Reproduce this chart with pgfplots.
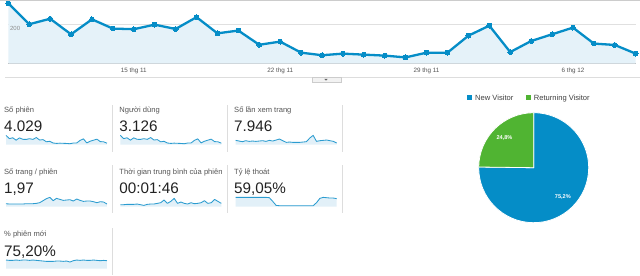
\documentclass[border=0pt]{standalone}
\usepackage{pgfplots}
\usepackage{pgfplotstable}
\pgfplotsset{compat=1.18}
\usepackage{fontspec}
\setmainfont{Liberation Sans}
\definecolor{gablue}{HTML}{058DC7}
\definecolor{gafill}{HTML}{E5F2F9}
\definecolor{gagreen}{HTML}{50B432}
\definecolor{sparkline}{HTML}{2B9CD0}
\definecolor{sparkfill}{HTML}{E2F0F8}
\definecolor{divider}{HTML}{DDDDDD}
\definecolor{labelgray}{HTML}{555555}
\definecolor{valuegray}{HTML}{222222}

% daily sessions (v) and users (u), 9 Nov - 9 Dec
\pgfplotstableread{
x v u
0 307 238
1 200 155
2 228 177
3 149 116
4 225 175
5 178 138
6 175 136
7 198 154
8 176 137
9 236 183
10 154 120
11 168 130
12 96 74
13 112 87
14 56 43
15 43 33
16 51 40
17 46 36
18 41 32
19 32 25
20 56 43
21 56 43
22 142 110
23 193 150
24 59 46
25 115 89
26 149 116
27 183 142
28 102 79
29 95 74
30 51 40
}\sessions

% sparkline shapes (relative values)
\pgfplotstableread{
x pv pps dur bounce newp
0 13 9 6 28 26
1 11 8 6 28 25
2 9 8 7 28 25
3 12 8 7 28 26
4 10 8 7 28 25
5 11 8 8 28 26
6 10 9 6 28 26
7 11 9 4 28 25
8 12 9 7 28 26
9 10 10 8 28 25
10 13 12 8 27 24
11 11 18 10 16 23
12 14 24 12 4 22
13 17 28 20 3 22
14 12 18 10 3 22
15 7 25 16 3 23
16 8 22 25 3 23
17 7 19 10 3 22
18 7 20 14 3 23
19 7 21 10 3 20
20 8 17 8 3 24
21 9 23 12 3 26
22 20 19 9 3 25
23 28 16 10 3 26
24 10 17 12 12 25
25 12 17 18 25 25
26 13 15 10 28 26
27 14 12 12 27 25
28 12 15 22 26 24
29 10 14 16 26 25
30 5 8 10 24 24
}\spark

\pgfplotsset{sparkax/.style={scale only axis, width=101bp, height=10bp,
  xmin=0, xmax=30, ymin=0, ymax=30, hide axis, clip=false, anchor=south west}}
\newcommand{\sparkplot}[2]{%
  \addplot[fill=sparkfill, draw=none] table[x=x, y=#2] {#1} \closedcycle;
  \addplot[draw=sparkline, line width=0.85bp, line join=round] table[x=x, y=#2] {#1};}

\newcommand{\lab}{\fontsize{7.6}{8}\selectfont\color{labelgray}}
\newcommand{\val}{\fontsize{15.3}{16}\selectfont\color{valuegray}}

\begin{document}
\begin{tikzpicture}
\useasboundingbox (0,0) rectangle (640bp,-276bp);
\fill[white] (0,0) rectangle (640bp,-276bp);

% ---------- main line chart ----------
\begin{axis}[at={(8.3bp,-63.7bp)}, anchor=south west, scale only axis,
  width=627.4bp, height=63.7bp, xmin=0, xmax=30, ymin=0, ymax=323,
  enlargelimits=false, clip=false,
  axis x line=bottom, axis y line=none,
  axis line style={-}, x axis line style={draw=black!35, line width=0.6bp},
  xtick={6,13,20,27}, xticklabels={15 thg 11,22 thg 11,29 thg 11,6 thg 12},
  major tick length=0pt,
  xticklabel style={font=\fontsize{6.3}{7}\selectfont, text=labelgray, anchor=base, yshift=-9bp},
  ytick=\empty]
\draw[black!12, line width=0.6bp] (axis cs:0,200) -- (axis cs:30,200);
\addplot[fill=gafill, draw=none] table[x=x, y=v] {\sessions} \closedcycle;
\addplot[draw=gablue, line width=2.3bp, line join=round, mark=*, mark size=2.4bp,
  mark options={fill=gablue, draw=gablue, line width=0bp}] table[x=x, y=v] {\sessions};
\node[anchor=west, font=\fontsize{6}{7}\selectfont, text=black!45, inner sep=0pt]
  at (axis cs:0.08,178) {200};
\end{axis}

% ---------- sparklines ----------
\begin{axis}[sparkax, at={(6bp,-144.7bp)}, ymax=330]
\sparkplot{\sessions}{v}
\end{axis}
\begin{axis}[sparkax, at={(120.3bp,-144.7bp)}, ymax=256]
\sparkplot{\sessions}{u}
\end{axis}
\begin{axis}[sparkax, at={(235.7bp,-144.7bp)}]
\sparkplot{\spark}{pv}
\end{axis}
\begin{axis}[sparkax, at={(6bp,-206.7bp)}]
\sparkplot{\spark}{pps}
\end{axis}
\begin{axis}[sparkax, at={(120.3bp,-206.7bp)}]
\sparkplot{\spark}{dur}
\end{axis}
\begin{axis}[sparkax, at={(235.7bp,-206.7bp)}]
\sparkplot{\spark}{bounce}
\end{axis}
\begin{axis}[sparkax, at={(6bp,-268.7bp)}]
\sparkplot{\spark}{newp}
\end{axis}

% ---------- pie ----------
\pgfmathsetmacro{\retang}{360*24.8/100}
\begin{axis}[at={(533.7bp,-167.7bp)}, anchor=center, scale only axis,
  width=110bp, height=110bp, xmin=-1, xmax=1, ymin=-1, ymax=1, hide axis, clip=false]
\filldraw[fill=gablue, draw=white, line width=0.8bp, line join=round]
  (axis cs:0,0) -- ++({90+\retang}:55bp) arc[start angle={90+\retang}, end angle=450, radius=55bp] -- cycle;
\filldraw[fill=gagreen, draw=white, line width=0.8bp, line join=round]
  (axis cs:0,0) -- ++(90:55bp) arc[start angle=90, end angle={90+\retang}, radius=55bp] -- cycle;
\path (axis cs:0,0) ++({90+\retang/2}:41.5bp) node[text=white, font=\fontsize{5.6}{6}\selectfont\bfseries] {24,8\%};
\path (axis cs:0,0) ++({(90+\retang+450)/2}:41.5bp) node[text=white, font=\fontsize{5.6}{6}\selectfont\bfseries] {75,2\%};
\end{axis}

% ---------- decorations and text (pixel coordinates) ----------
\begin{scope}[x=1bp, y=-1bp]
\draw[black!20, line width=1bp] (0,0.5) -- (640,0.5);
\draw[divider, line width=0.8bp] (5,77.3) -- (640,77.3);
\filldraw[fill=black!5, draw=black!20, line width=0.5bp] (312,77.3) rectangle (341,82);
\fill[black!60] (324.3,78.8) -- (327.7,78.8) -- (326,80.6) -- cycle;

% dividers
\foreach \xx in {112.7,227.7,342.3} {
  \draw[divider, line width=0.8bp] (\xx,105) -- (\xx,152);
  \draw[divider, line width=0.8bp] (\xx,165) -- (\xx,213);
}
\draw[divider, line width=0.8bp] (112.7,228) -- (112.7,275);

% labels and values
\node[anchor=base west, inner sep=0pt] at (4,112.3) {\lab Số phiên};
\node[anchor=base west, inner sep=0pt] at (4,131.7) {\val 4.029};
\node[anchor=base west, inner sep=0pt] at (119.3,112.3) {\lab Người dùng};
\node[anchor=base west, inner sep=0pt] at (119.3,131.7) {\val 3.126};
\node[anchor=base west, inner sep=0pt] at (234,112.3) {\lab Số lần xem trang};
\node[anchor=base west, inner sep=0pt] at (234,131.7) {\val 7.946};

\node[anchor=base west, inner sep=0pt] at (4,174.3) {\lab Số trang / phiên};
\node[anchor=base west, inner sep=0pt] at (4,193.3) {\val 1,97};
\node[anchor=base west, inner sep=0pt] at (119.3,174.3) {\lab Thời gian trung bình của phiên};
\node[anchor=base west, inner sep=0pt] at (119.3,193.3) {\val 00:01:46};
\node[anchor=base west, inner sep=0pt] at (234,174.3) {\lab Tỷ lệ thoát};
\node[anchor=base west, inner sep=0pt] at (234,193.3) {\val 59,05\%};

\node[anchor=base west, inner sep=0pt] at (4,236) {\lab \% phiên mới};
\node[anchor=base west, inner sep=0pt] at (4,256) {\val 75,20\%};

% pie legend
\fill[gablue] (466.7,95) rectangle (471.7,100);
\node[anchor=base west, inner sep=0pt] at (475,100) {\fontsize{7.6}{8}\selectfont\color{black!75} New Visitor};
\fill[gagreen] (526,95) rectangle (531,100);
\node[anchor=base west, inner sep=0pt] at (533.7,100) {\fontsize{7.6}{8}\selectfont\color{black!75} Returning Visitor};
\end{scope}
\end{tikzpicture}
\end{document}
